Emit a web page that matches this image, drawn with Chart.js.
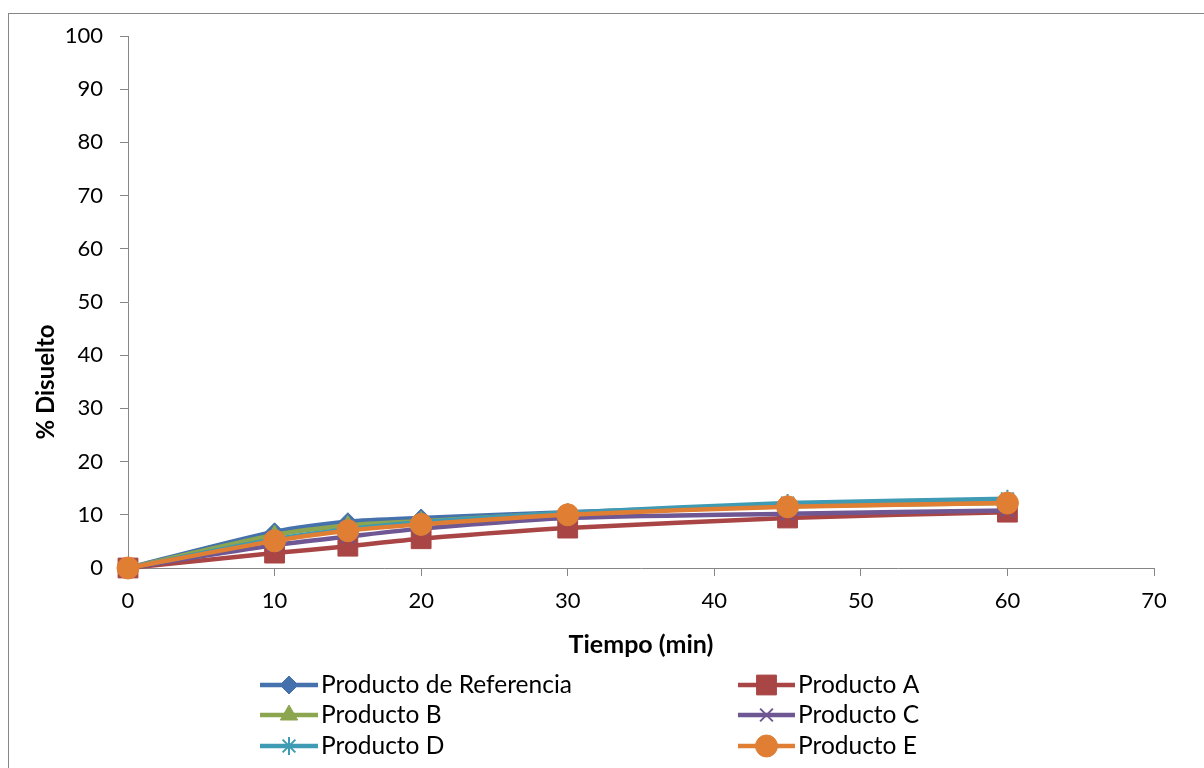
<!DOCTYPE html>
<html>
<head>
<meta charset="utf-8">
<script src="https://cdn.jsdelivr.net/npm/chart.js@4/dist/chart.umd.min.js"></script>
<style>
  html, body { margin: 0; padding: 0; background: #fff; }
  body { width: 1204px; height: 768px; overflow: hidden; position: relative; }
  #frame { position: absolute; left: 8px; top: 13px; width: 1300px; height: 900px; border: 1px solid #868686; }
  #wrap { position: absolute; left: 0; top: 0; width: 1204px; height: 768px; }
</style>
</head>
<body>
<div id="frame"></div>
<div id="wrap"><canvas id="c" width="1204" height="768"></canvas></div>
<script>
// Tiempo de muestreo (min)
const tiempos = [0, 10, 15, 20, 30, 45, 60];

// % disuelto por producto
const productoReferencia = [0, 6.8, 8.7, 9.4, 10.5, 11.8, 12.6];
const productoA = [0, 2.8, 4.1, 5.5, 7.5, 9.4, 10.5];
const productoB = [0, 6.2, 8.0, 8.8, 10.3, 11.6, 12.2];
const productoC = [0, 4.3, 5.9, 7.4, 9.4, 10.2, 10.8];
const productoD = [0, 5.4, 7.3, 8.6, 10.4, 12.2, 13.0];
const productoE = [0, 5.1, 7.0, 8.2, 10.0, 11.5, 12.2];

const nombres = ['Producto de Referencia', 'Producto A', 'Producto B', 'Producto C', 'Producto D', 'Producto E'];
const valores = [productoReferencia, productoA, productoB, productoC, productoD, productoE];

const xTicks = [0, 10, 20, 30, 40, 50, 60, 70];
const yTicks = [0, 10, 20, 30, 40, 50, 60, 70, 80, 90, 100];

const colores = ['#4572AC', '#A94545', '#8CA64F', '#6E5793', '#3F9AB3', '#E07F34'];
const marcadores = ['rectRot', 'rect', 'triangle', 'crossRot', 'star', 'circle'];
const radios = [9, 14, 10, 9, 9, 11];

const FONT = 'Lato, "Open Sans", "Liberation Sans", sans-serif';

const datasets = nombres.map((n, i) => ({
  label: n,
  data: tiempos.map((t, k) => ({ x: t, y: valores[i][k] })),
  borderColor: colores[i],
  backgroundColor: colores[i],
  borderWidth: 4.5,
  tension: 0.25,
  clip: false,
  pointStyle: marcadores[i],
  pointRadius: radios[i],
  pointHoverRadius: radios[i],
  pointBorderWidth: (marcadores[i] === 'crossRot' || marcadores[i] === 'star') ? 2 : 1,
  pointBackgroundColor: colores[i],
  pointBorderColor: colores[i],
  order: nombres.length - i
}));

// Leyenda en dos columnas bajo el eje X
const leyenda = {
  id: 'leyenda',
  afterDraw(chart) {
    const ctx = chart.ctx;
    const cols = [{ x0: 260, x1: 318 }, { x0: 738, x1: 795 }];
    const filas = [685, 715, 746];
    ctx.save();
    chart.data.datasets.forEach((ds, i) => {
      const c = cols[i % 2];
      const y = filas[Math.floor(i / 2)];
      ctx.strokeStyle = ds.borderColor;
      ctx.lineWidth = ds.borderWidth;
      ctx.lineCap = 'butt';
      ctx.beginPath();
      ctx.moveTo(c.x0, y);
      ctx.lineTo(c.x1, y);
      ctx.stroke();
      ctx.fillStyle = ds.pointBackgroundColor;
      ctx.strokeStyle = ds.pointBorderColor;
      ctx.lineWidth = ds.pointBorderWidth;
      Chart.helpers.drawPoint(ctx, {
        pointStyle: ds.pointStyle,
        radius: ds.pointRadius,
        rotation: 0,
        borderWidth: ds.pointBorderWidth
      }, (c.x0 + c.x1) / 2, y);
      ctx.fillStyle = '#000';
      ctx.font = '24.5px ' + FONT;
      ctx.textAlign = 'left';
      ctx.textBaseline = 'middle';
      ctx.fillText(ds.label, c.x1 + 3, y);
    });
    ctx.restore();
  }
};

// Título del eje Y
const tituloY = {
  id: 'tituloY',
  afterDraw(chart) {
    const ctx = chart.ctx;
    ctx.save();
    ctx.translate(46, 382);
    ctx.rotate(-Math.PI / 2);
    ctx.fillStyle = '#000';
    ctx.font = 'bold 24px ' + FONT;
    ctx.textAlign = 'center';
    ctx.textBaseline = 'middle';
    ctx.fillText('% Disuelto', 0, 0);
    ctx.restore();
  }
};

new Chart(document.getElementById('c'), {
  type: 'line',
  data: { datasets },
  plugins: [leyenda, tituloY],
  options: {
    responsive: false,
    animation: false,
    devicePixelRatio: 1,
    layout: { padding: { left: 0, right: 50, top: 36, bottom: 100 } },
    plugins: { legend: { display: false }, tooltip: { enabled: false } },
    scales: {
      x: {
        type: 'linear',
        min: 0, max: 70,
        afterBuildTicks(s) { s.ticks = xTicks.map(v => ({ value: v })); },
        afterFit(s) { s.height = 100; },
        grid: { drawOnChartArea: false, drawTicks: true, tickLength: 8, color: '#868686' },
        border: { color: '#868686', width: 1 },
        ticks: { color: '#000', font: { family: FONT, size: 22 }, padding: 12, maxRotation: 0 },
        title: { display: true, text: 'Tiempo (min)', color: '#000', font: { family: FONT, size: 25, weight: 'bold' }, padding: { top: 0, bottom: 8 } }
      },
      y: {
        type: 'linear',
        min: 0, max: 100,
        afterBuildTicks(s) { s.ticks = yTicks.map(v => ({ value: v })); },
        afterFit(s) { s.width = 128; },
        grid: { drawOnChartArea: false, drawTicks: true, tickLength: 8, color: '#868686' },
        border: { color: '#868686', width: 1 },
        ticks: { color: '#000', font: { family: FONT, size: 22 }, padding: 17 }
      }
    }
  }
});
</script>
</body>
</html>
